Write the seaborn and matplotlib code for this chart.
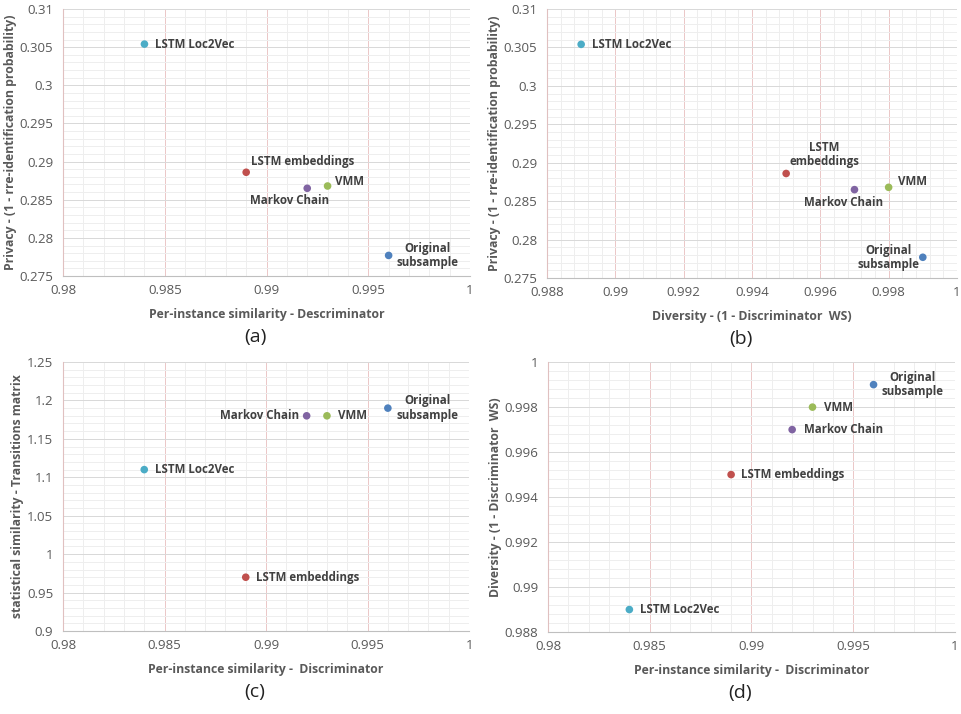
import matplotlib
matplotlib.use("Agg")
import matplotlib.pyplot as plt
import seaborn as sns
import pandas as pd
import numpy as np
from matplotlib.ticker import MultipleLocator, FixedLocator, FuncFormatter

methods = ["LSTM Loc2Vec", "LSTM embeddings", "Markov Chain", "VMM", "Original\nsubsample"]
per_instance = [0.984, 0.989, 0.992, 0.993, 0.996]
privacy = [0.3054, 0.2886, 0.2865, 0.2868, 0.2777]
diversity = [0.989, 0.995, 0.997, 0.998, 0.999]
transitions = [1.11, 0.97, 1.18, 1.18, 1.19]
colors = ["#4BACC6", "#C0504D", "#8064A2", "#9BBB59", "#4F81BD"]

df = pd.DataFrame({"method": methods, "per_instance": per_instance, "privacy": privacy,
                   "diversity": diversity, "transitions": transitions})

sns.set_theme(style="white")
plt.rcParams['font.family'] = ['Open Sans', 'DejaVu Sans']

fig = plt.figure(figsize=(9.61, 7.14), dpi=100)

panels = [
    dict(rect=[0.0656, 0.6134, 0.4235, 0.374], x="per_instance", y="privacy",
         xlim=(0.98, 1.0), xmaj=0.005, xmin=0.001, ylim=(0.275, 0.31), ymaj=0.005, ymin=0.001,
         xlabel="Per-instance similarity - Descriminator",
         ylabel="Privacy - (1 - rre-identification probability)", cap="(a)",
         labels=["LSTM Loc2Vec", "LSTM embeddings", "Markov Chain", "VMM", "Original\nsubsample"],
         offs=[(11, 0, 'left'), (5, 11, 'left'), (-18, -12, 'center'), (7, 5, 'left'), (39, 0, 'center')]),
    dict(rect=[0.5692, 0.6106, 0.4266, 0.3768], x="diversity", y="privacy",
         xlim=(0.988, 1.0), xmaj=0.002, xmin=0.0004, ylim=(0.275, 0.31), ymaj=0.005, ymin=0.001,
         xlabel="Diversity - (1 - Discriminator  WS)",
         ylabel="Privacy - (1 - rre-identification probability)", cap="(b)",
         labels=["LSTM Loc2Vec", "LSTM\nembeddings", "Markov Chain", "VMM", "Original\nsubsample"],
         offs=[(11, 0, 'left'), (38, 19, 'center'), (-11, -13, 'center'), (9, 6, 'left'), (-34, 0, 'center')]),
    dict(rect=[0.0656, 0.1162, 0.4225, 0.3768], x="per_instance", y="transitions",
         xlim=(0.98, 1.0), xmaj=0.005, xmin=0.001, ylim=(0.9, 1.25), ymaj=0.05, ymin=0.01,
         xlabel="Per-instance similarity -  Discriminator",
         ylabel="statistical similarity - Transitions matrix", cap="(c)",
         labels=["LSTM Loc2Vec", "LSTM embeddings", "Markov Chain", "VMM", "Original\nsubsample"],
         offs=[(11, 0, 'left'), (10, 0, 'left'), (-8, 0, 'right'), (11, 0, 'left'), (40, 0, 'center')]),
    dict(rect=[0.5702, 0.1148, 0.4235, 0.378], x="per_instance", y="diversity",
         xlim=(0.98, 1.0), xmaj=0.005, xmin=0.001, ylim=(0.988, 1.0), ymaj=0.002, ymin=0.0004,
         xlabel="Per-instance similarity -  Discriminator",
         ylabel="Diversity - (1 - Discriminator  WS)", cap="(d)",
         labels=["LSTM Loc2Vec", "LSTM embeddings", "Markov Chain", "VMM", "Original\nsubsample"],
         offs=[(11, 0, 'left'), (10, 0, 'left'), (12, 0, 'left'), (11, 0, 'left'), (39, 0, 'center')]),
]

def fmt(v, pos):
    s = f"{v:.4f}".rstrip('0').rstrip('.')
    return s

def minor_locs(lim, step, major):
    n = int(round((lim[1] - lim[0]) / step))
    locs = [lim[0] + k * step for k in range(n + 1)]
    ratio = major / step
    out = [l for k, l in enumerate(locs) if abs(k / ratio - round(k / ratio)) > 1e-6]
    return FixedLocator(out)

text_col = "#595959"
for p in panels:
    ax = fig.add_axes(p["rect"])
    sns.scatterplot(data=df, x=p["x"], y=p["y"], hue="method", palette=colors,
                    s=30, edgecolor="none", legend=False, ax=ax, zorder=5)
    ax.set_xlim(*p["xlim"])
    ax.set_ylim(*p["ylim"])
    ax.xaxis.set_major_locator(MultipleLocator(p["xmaj"]))
    ax.xaxis.set_minor_locator(minor_locs(p["xlim"], p["xmin"], p["xmaj"]))
    ax.yaxis.set_major_locator(MultipleLocator(p["ymaj"]))
    ax.yaxis.set_minor_locator(minor_locs(p["ylim"], p["ymin"], p["ymaj"]))
    ax.xaxis.set_major_formatter(FuncFormatter(fmt))
    ax.yaxis.set_major_formatter(FuncFormatter(fmt))
    ax.grid(which="minor", color="#EEEEEE", linewidth=0.72, antialiased=False)
    ax.grid(which="major", axis="y", color="#D9D9D9", linewidth=0.72, antialiased=False)
    ax.grid(which="major", axis="x", color="#EBC8C8", linewidth=0.72, antialiased=False)
    ax.set_axisbelow(True)
    for side in ["top", "right"]:
        ax.spines[side].set_visible(False)
    ax.spines["left"].set_color("#E0C0C0")
    ax.spines["bottom"].set_color("#BFBFBF")
    ax.spines["left"].set_linewidth(0.8)
    ax.spines["bottom"].set_linewidth(0.8)
    ax.tick_params(axis="both", which="major", labelsize=9.5, labelcolor=text_col,
                   length=4, width=0.72, color="#BFBFBF", direction="out", pad=3)
    ax.tick_params(axis="both", which="minor", length=0)
    ax.tick_params(axis="x", which="major", length=0, pad=6)
    ax.set_xlabel(p["xlabel"], fontsize=8.8, fontweight="bold", color=text_col, labelpad=8)
    ax.set_ylabel(p["ylabel"], fontsize=8.8, fontweight="bold", color=text_col, labelpad=2)
    for i, lab in enumerate(p["labels"]):
        dx, dy, ha = p["offs"][i]
        ax.annotate(lab, (df[p["x"]][i], df[p["y"]][i]), xytext=(dx, dy),
                    textcoords="offset pixels", ha=ha, va="center",
                    fontsize=8.3, fontweight="bold", color="#404040",
                    linespacing=1.15, zorder=6)
    r = p["rect"]
    fig.text(r[0] + r[2] / 2 - 0.012, r[1] - 0.085, p["cap"], ha="center", va="center",
             fontsize=14, color="#222222")

fig.savefig("out.png", dpi=100)
